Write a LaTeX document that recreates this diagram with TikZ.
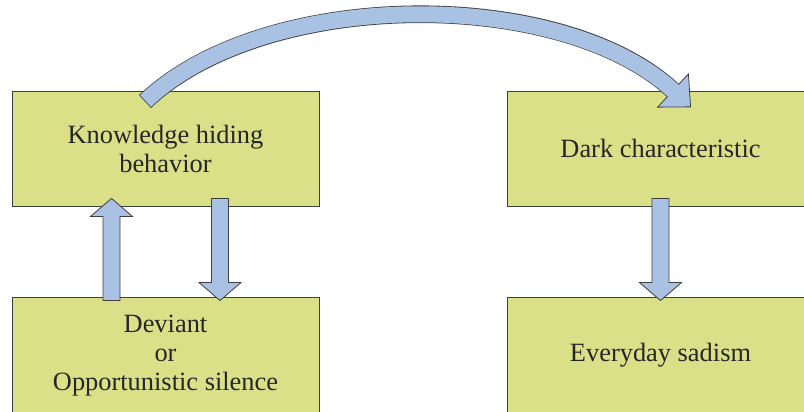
\documentclass[tikz,border=0pt]{standalone}
\usepackage{fontspec}
\setmainfont{Liberation Serif}
\usetikzlibrary{calc}

\definecolor{boxgreen}{HTML}{DAE088}
\definecolor{arrowblue}{HTML}{A9C2E3}
\definecolor{edgegray}{HTML}{3F3F3F}

\tikzset{
	stagebox/.style={draw=edgegray, line width=0.9pt, fill=boxgreen, align=center,
		minimum width=307pt, minimum height=115pt, inner sep=0pt, text=black!85,
		font=\fontsize{26.4}{29}\selectfont},
	blockarrow/.style={draw=edgegray, line width=0.8pt, fill=arrowblue, line join=miter},
}

\begin{document}
\begin{tikzpicture}[x=1pt, y=-1pt]
	\useasboundingbox (0,0) rectangle (804,412);
	\clip (0,0) rectangle (804,412);
	% the four boxes
	\node[stagebox] (kh) at (165.5,148.5) {Knowledge hiding\\behavior};
	\node[stagebox] (dc) at (660.5,148.5) {Dark characteristic};
	\node[stagebox, minimum height=117pt] (dev) at (165.5,355.5) {Deviant\\or\\Opportunistic silence};
	\node[stagebox, minimum height=117pt] (es) at (660.5,355.5) {Everyday sadism};
	% end points of the straight block arrows
	\coordinate (up0) at ($(dev.north)+(-54,4)$);
	\coordinate (up1) at ($(kh.south)+(-54,-8)$);
	\coordinate (dn0) at ($(kh.south)+(54.5,-8)$);
	\coordinate (dn1) at ($(dev.north)+(54.5,4)$);
	\coordinate (rt0) at ($(dc.south)+(0,-8)$);
	\coordinate (rt1) at ($(es.north)+(0,4)$);
	\foreach \from/\to in {up0/up1, dn0/dn1, rt0/rt1} {
		\coordinate (hb) at ($(\to)!18pt!(\from)$);
		\filldraw[blockarrow] ($(\from)!8.5pt!90:(\to)$) -- ($(hb)!8.5pt!90:(\to)$)
			-- ($(hb)!21pt!90:(\to)$) -- (\to) -- ($(hb)!21pt!-90:(\to)$)
			-- ($(hb)!8.5pt!-90:(\to)$) -- ($(\from)!8.5pt!-90:(\to)$) -- cycle;
	}
	% curved arrow over the top
	\coordinate (ctail) at ($(kh.north)+(-20.5,11)$);
	\coordinate (chead) at ($(dc.north)+(12.5,0)$);
	\draw[line width=17.6pt, draw=edgegray] (ctail) .. controls +(120,-114) and +(-112,-104) .. (chead);
	\filldraw[blockarrow] ($(chead)+(15.4,-16.6)$) -- ($(chead)+(17.6,16.3)$) -- ($(chead)+(-15.4,16.6)$) -- cycle;
	\draw[line width=16pt, draw=arrowblue, shorten <=0.8pt, shorten >=-1pt]
		(ctail) .. controls +(120,-114) and +(-112,-104) .. (chead);
\end{tikzpicture}
\end{document}
